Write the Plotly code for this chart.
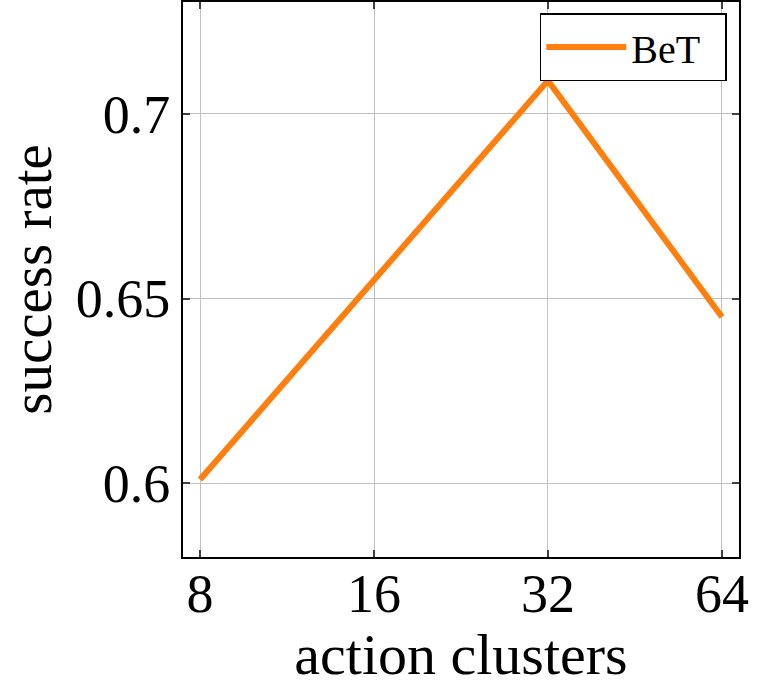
import plotly.graph_objects as go
import math

clusters = [8, 16, 32, 64]
success = [0.601, 0.655, 0.709, 0.645]
x_ticks = [8, 16, 32, 64]
x_tick_labels = ["8", "16", "32", "64"]
y_ticks = [0.6, 0.65, 0.7]
y_tick_labels = ["0.6", "0.65", "0.7"]
series_name = "BeT"

FONT = "Liberation Serif"

fig = go.Figure()
fig.add_trace(go.Scatter(
    x=clusters, y=success, mode="lines", name=series_name + "\u00a0\u00a0",
    line=dict(color="#ff7f0e", width=6),
))

pad = 0.098
fig.update_layout(
    width=762, height=687,
    margin=dict(l=183, r=23, t=2, b=130, autoexpand=False),
    plot_bgcolor="white", paper_bgcolor="white",
    font=dict(family=FONT, color="black"),
    showlegend=True,
    legend=dict(
        x=0.978, y=0.98, xanchor="right", yanchor="top",
        bgcolor="white", bordercolor="black", borderwidth=1.5,
        font=dict(family=FONT, size=40, color="black"),
        itemwidth=80,
    ),
    xaxis=dict(
        type="log",
        range=[(math.log2(8) - pad) * math.log10(2), (math.log2(64) + pad) * math.log10(2)],
        tickvals=x_ticks, ticktext=x_tick_labels,
        tickfont=dict(family=FONT, size=54),
        ticklabelstandoff=-12,
        title=dict(text="action clusters", font=dict(family=FONT, size=58), standoff=0),
        showgrid=True, gridcolor="#c0c0c0", gridwidth=1,
        showline=True, linecolor="black", linewidth=2, mirror="ticks",
        ticks="inside", ticklen=7, tickcolor="#404040", tickwidth=1.5,
        zeroline=False, automargin=False,
    ),
    yaxis=dict(
        range=[0.58, 0.7303],
        tickvals=y_ticks, ticktext=y_tick_labels,
        tickfont=dict(family=FONT, size=54),
        title=dict(text="success rate", font=dict(family=FONT, size=57), standoff=14),
        showgrid=True, gridcolor="#c0c0c0", gridwidth=1,
        showline=True, linecolor="black", linewidth=2, mirror="ticks",
        ticks="inside", ticklen=7, tickcolor="#404040", tickwidth=1.5,
        zeroline=False, automargin=False,
    ),
)

fig.write_html(
    "out.html",
    config={"displayModeBar": False},
    post_script="document.body.style.margin='0';",
)
